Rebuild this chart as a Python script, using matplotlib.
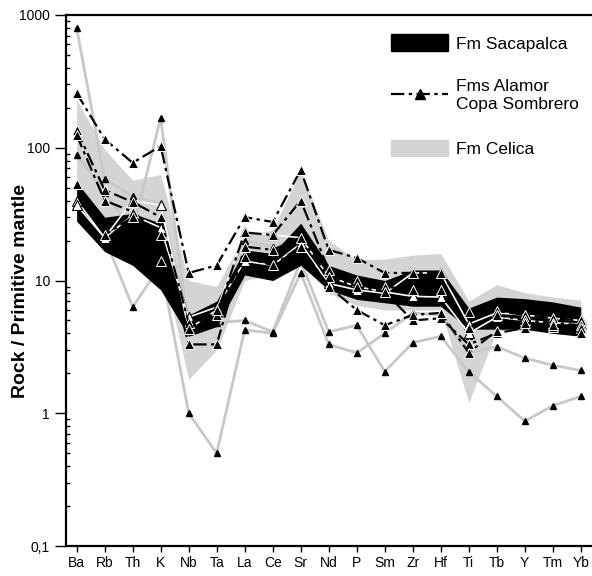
import numpy as np
import matplotlib
matplotlib.use("Agg")
import matplotlib.pyplot as plt
from matplotlib.patches import Patch
from matplotlib.lines import Line2D
from matplotlib.ticker import FixedLocator, LogLocator, NullFormatter

plt.rcParams['font.family'] = ['Liberation Sans', 'DejaVu Sans']

elements = ["Ba", "Rb", "Th", "K", "Nb", "Ta", "La", "Ce", "Sr", "Nd",
            "P", "Sm", "Zr", "Hf", "Ti", "Tb", "Y", "Tm", "Yb"]

# Fm Celica envelope (gray)
celica_upper = [230, 97, 57, 63, 10, 9, 22, 24, 68, 20, 14.3, 14.5, 15.5, 16, 7.0, 9.3, 8.1, 7.5, 7.1]
celica_lower = [40, 25, 20, 15, 1.8, 3.0, 10, 11, 14, 8, 6.5, 6, 6, 6, 1.2, 4.2, 4.2, 4.0, 3.9]

# Fm Sacapalca envelope (black)
sac_upper = [55, 30, 32, 27, 5.5, 7.0, 17, 16, 27, 13, 11, 10, 12, 12, 6.2, 7.5, 7.3, 6.9, 6.3]
sac_lower = [28, 16.5, 13, 8.5, 3.8, 4.5, 11, 10, 13, 8.5, 7.2, 6.8, 6.4, 6.4, 4.3, 4.3, 4.3, 4.0, 3.8]

# Fm Sacapalca samples (white lines, open triangles)
sac_s1 = [40, 21, 31, 25, 5.3, 6.3, 14, 13, 19, 9.5, 8.5, 8.0, 11.4, 11.4, 4.7, 5.7, 5.5, 5.2, 5.0]
sac_s2 = [37, 21, 40, 37, 4.3, 6.0, 23, 22, 21, 10.7, 9.0, 8.2, 7.6, 7.5, 4.0, 5.3, 5.0, 4.8, 4.7]

# Fms Alamor / Copa Sombrero samples (dash-dot black)
alamor_1 = [258, 116, 77, 103, 11.4, 13, 30, 27.6, 68, 17, 14.8, 11.4, 11.4, 11.4, 5.8, 5.9, 5.5, 5.2, 5.0]
alamor_2 = [136, 48, 39, 30, 4.8, 5.5, 23, 22, 40, 12, 10, 9, 8.5, 8.5, 4.4, 5.5, 5.0, 4.8, 4.6]
alamor_3 = [125, 40, 33, 22, 3.3, 3.3, 18, 17, 21, 10.7, 9, 8.2, 5.0, 5.2, 3.3, 4.0, 4.4, 4.5, 4.4]
alamor_4 = [53, 22, 30, 14, 4.3, 6.0, 15, 13, 18, 9, 6, 4.6, 5.5, 5.7, 2.85, 4.2, 4.8, 4.6, 4.0]

# Fm Celica samples outside the envelope (gray lines)
celica_s1 = [800, 58, 43, 38, 5.0, 6.5, 20, 18, 21, 12, 10, 9, 9.5, 9, 3.8, 5.5, 5.2, 5.0, 4.6]
celica_s2 = [40, 21, 6.3, 13, 1.0, 0.5, 4.25, 4.0, 11.4, 3.3, 2.85, 4.0, 5.7, 5.5, 2.85, 3.18, 2.6, 2.3, 2.1]
celica_s3 = [88, 46, 24, 168, 4.2, 4.8, 5.0, 4.1, 14, 4.1, 4.6, 2.06, 3.4, 3.8, 2.06, 1.34, 0.87, 1.14, 1.34]

x = np.arange(len(elements))

fig = plt.figure(figsize=(5.92, 5.76), dpi=100)
ax = fig.add_axes([66 / 592, 30 / 576, 526 / 592, 531 / 576])

ax.fill_between(x, celica_lower, celica_upper, color="#d4d4d4", lw=0, zorder=1)
ax.fill_between(x, sac_lower, sac_upper, color="black", lw=0, zorder=3)

for s in [celica_s1, celica_s2, celica_s3]:
    ax.plot(x, s, color="#c8c8c8", lw=2, marker="^", ms=5, mfc="black", mec="black", zorder=2)

for s in [sac_s1, sac_s2]:
    ax.plot(x, s, color="white", lw=1.2, marker="^", ms=7, mfc="white", mec="black", mew=0.8, zorder=4)

dash = (0, (6, 2, 1.5, 2))
for s in [alamor_1, alamor_2, alamor_3, alamor_4]:
    ax.plot(x, s, color="black", lw=1.6, ls=dash, marker="^", ms=6.5, mfc="black", mec="white", mew=0.7, zorder=5)

ax.set_yscale("log")
ax.set_ylim(0.1, 1000)
ax.set_xlim(-0.38, 18.4)
ax.set_xticks(x)
ax.set_xticklabels(elements)
ax.yaxis.set_major_locator(FixedLocator([0.1, 1, 10, 100, 1000]))
ax.set_yticklabels(["0,1", "1", "10", "100", "1000"])
ax.yaxis.set_minor_locator(LogLocator(base=10, subs=np.arange(2, 10)))
ax.yaxis.set_minor_formatter(NullFormatter())
ax.tick_params(axis="y", which="major", direction="out", length=8, width=1, labelsize=10)
ax.tick_params(axis="y", which="minor", direction="in", length=3, width=1)
ax.tick_params(axis="x", direction="out", length=4, width=1, labelsize=10, pad=3)
for side in ["left", "bottom", "top"]:
    ax.spines[side].set_linewidth(1.6)
ax.spines["right"].set_visible(False)

ax.set_ylabel("Rock / Primitive mantle", fontsize=14, fontweight="bold")
ax.yaxis.set_label_coords(-0.07, 0.48)

handles = [
    Patch(facecolor="black", edgecolor="black"),
    Line2D([0], [0], color="black", lw=1.6, ls=dash, marker="^", ms=7, mfc="black", mec="black"),
    Patch(facecolor="#d4d4d4", edgecolor="#d4d4d4"),
]
labels = ["Fm Sacapalca", "Fms Alamor\nCopa Sombrero", "Fm Celica"]
ax.legend(handles, labels, loc="upper left", bbox_to_anchor=(0.588, 0.993), frameon=False,
          fontsize=12.5, handlelength=3.3, handleheight=1.1, handletextpad=0.45,
          labelspacing=1.6)

fig.savefig("out.png", dpi=100)
